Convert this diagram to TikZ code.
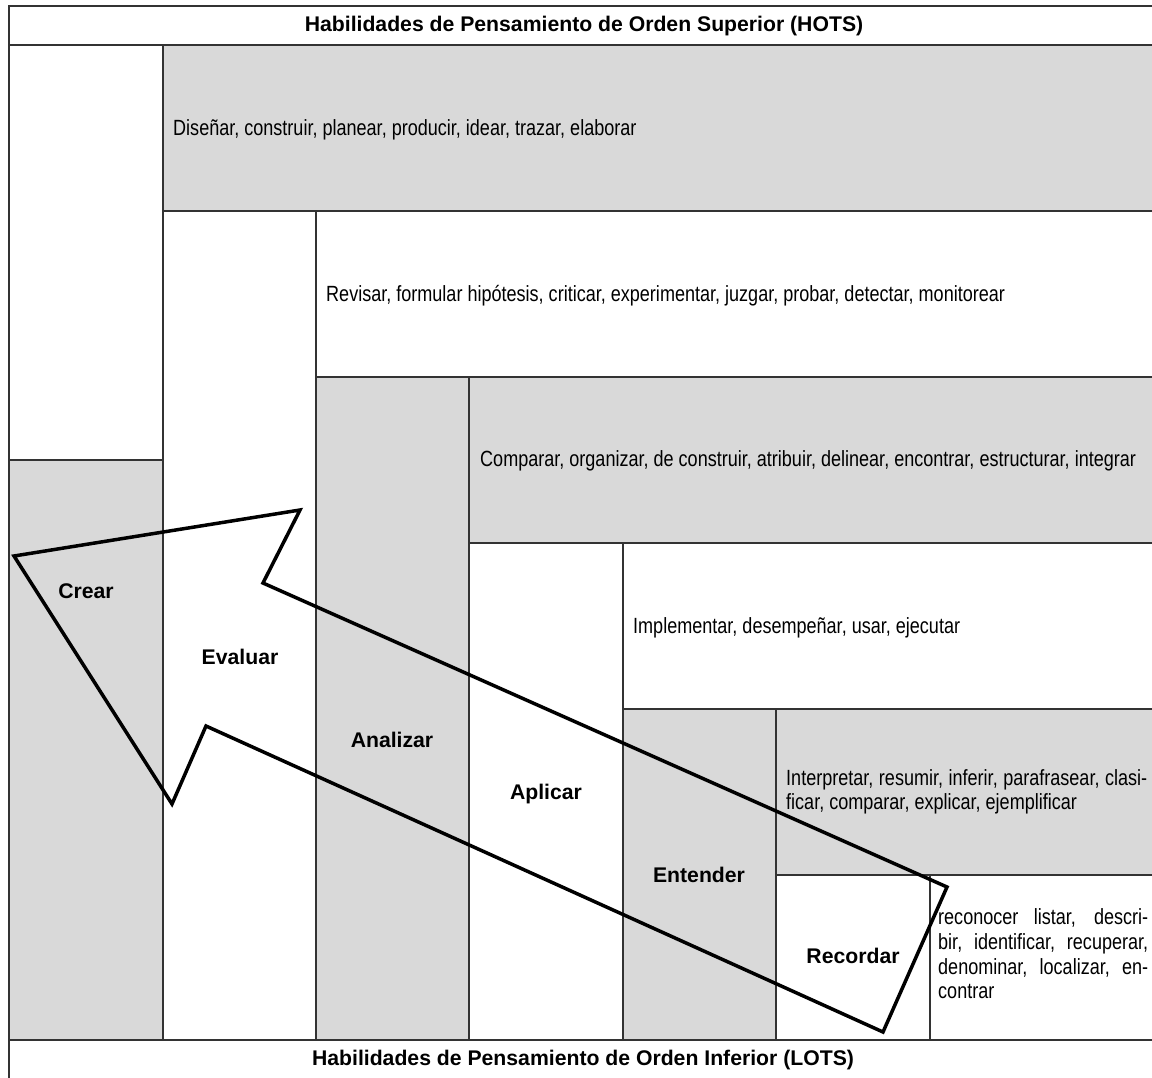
\documentclass[tikz,border=0pt]{standalone}
\usepackage{fontspec}
\setmainfont{Liberation Sans}
\newfontfamily\condfont[FakeStretch=0.82]{Liberation Sans}
\begin{document}
\begin{tikzpicture}[x=1pt,y=-1pt,
  gridline/.style={draw=black!80, line width=1.3pt},
  graycell/.style={fill=gray!30},
  lab/.style={font=\fontsize{21.2}{25}\selectfont\bfseries, inner sep=0},
  txt/.style={font=\condfont\fontsize{22}{24.7}\selectfont, anchor=west, inner sep=0, align=left},
  arrowline/.style={draw=black, line width=3.5pt, line join=miter}]
\useasboundingbox (0,0) rectangle (1152,1077);
\fill[white] (0,0) rectangle (1152,1077);
% gray cells
\fill[graycell] (163,45) rectangle (1170,211);
\fill[graycell] (316,377) rectangle (1170,543);
\fill[graycell] (776,709) rectangle (1170,875);
\fill[graycell] (9,460) rectangle (163,1040);
\fill[graycell] (316,377) rectangle (469,1040);
\fill[graycell] (623,709) rectangle (776,1040);
% grid lines
\draw[gridline] (9,6) rectangle (1159,1090);
\draw[gridline] (9,45) -- (1170,45);
\draw[gridline] (9,1040) -- (1170,1040);
\draw[gridline] (163,45) -- (163,1040);
\draw[gridline] (316,211) -- (316,1040);
\draw[gridline] (469,377) -- (469,1040);
\draw[gridline] (623,543) -- (623,1040);
\draw[gridline] (776,709) -- (776,1040);
\draw[gridline] (930,875) -- (930,1040);
\draw[gridline] (9,460) -- (163,460);
\draw[gridline] (163,211) -- (1170,211);
\draw[gridline] (316,377) -- (1170,377);
\draw[gridline] (469,543) -- (1170,543);
\draw[gridline] (623,709) -- (1170,709);
\draw[gridline] (776,875) -- (1170,875);
% headers
\node[lab] (hots) at (584,26) {Habilidades de Pensamiento de Orden Superior (HOTS)};
\node[lab] (lots) at (583,1060) {Habilidades de Pensamiento de Orden Inferior (LOTS)};
% level labels
\node[lab] (crear) at (86,591) {Crear};
\node[lab] (evaluar) at (240,657) {Evaluar};
\node[lab] (analizar) at (392,740) {Analizar};
\node[lab] (aplicar) at (546,794) {Aplicar};
\node[lab] (entender) at (699,875) {Entender};
\node[lab] (recordar) at (853,956) {Recordar};
% verbs
\node[txt] (t1) at (173,130) {Diseñar, construir, planear, producir, idear, trazar, elaborar};
\node[txt] (t2) at (326,296) {Revisar, formular hipótesis, criticar, experimentar, juzgar, probar, detectar, monitorear};
\node[txt] (t3) at (480,461) {Comparar, organizar, de construir, atribuir, delinear, encontrar, estructurar, integrar};
\node[txt] (t4) at (633,628) {Implementar, desempeñar, usar, ejecutar};
\node[txt, font=\condfont\fontsize{22}{24}\selectfont] (t5) at (786,792) {\makebox[361pt][s]{Interpretar, resumir, inferir, parafrasear, clasi-}\\ficar, comparar, explicar, ejemplificar};
\node[txt] (t6) at (938,954) {\makebox[210pt][s]{reconocer listar, descri-}\\\makebox[210pt][s]{bir, identificar, recuperar,}\\\makebox[210pt][s]{denominar, localizar, en-}\\contrar};
% big arrow
\coordinate (tip) at (14,556);
\coordinate (bu) at (300,510);
\coordinate (nu) at (263,583);
\coordinate (tu) at (947,887);
\coordinate (tl) at (883,1032);
\coordinate (nl) at (206,726);
\coordinate (bl) at (172,804);
\draw[arrowline] (tip) -- (bu) -- (nu) -- (tu) -- (tl) -- (nl) -- (bl) -- cycle;
\end{tikzpicture}
\end{document}
